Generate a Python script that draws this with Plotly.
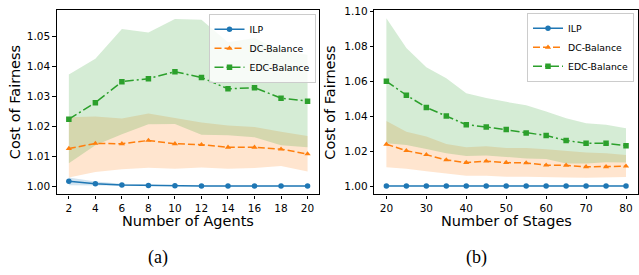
import plotly.graph_objects as go

# ---------------- data: panel (a) ----------------
agents = [2, 4, 6, 8, 10, 12, 14, 16, 18, 20]
ilp_a = [1.0016, 1.0008, 1.0004, 1.0002, 1.0001, 1.0, 1.0, 1.0, 1.0, 1.0]
ilp_a_lo = [1.0003, 1.0002, 1.0001, 1.0, 1.0, 0.9999, 0.9999, 0.9999, 0.9999, 0.9999]
ilp_a_hi = [1.0029, 1.0015, 1.0008, 1.0004, 1.0002, 1.0001, 1.0001, 1.0001, 1.0001, 1.0001]
dc_a = [1.0125, 1.0142, 1.0141, 1.0152, 1.0141, 1.0138, 1.0129, 1.0129, 1.0123, 1.0107]
dc_a_lo = [1.0029, 1.0047, 1.0056, 1.0061, 1.0058, 1.0062, 1.0058, 1.0060, 1.0067, 1.0049]
dc_a_hi = [1.0229, 1.0232, 1.0225, 1.0242, 1.0227, 1.0212, 1.0202, 1.0197, 1.0181, 1.0167]
edc_a = [1.0223, 1.0278, 1.0348, 1.0358, 1.0381, 1.0362, 1.0324, 1.0328, 1.0293, 1.0283]
edc_a_lo = [1.0076, 1.0136, 1.0173, 1.0206, 1.0207, 1.0171, 1.0169, 1.0163, 1.0136, 1.0129]
edc_a_hi = [1.0372, 1.0424, 1.0523, 1.0512, 1.0557, 1.0554, 1.0479, 1.0493, 1.0450, 1.0438]

# ---------------- data: panel (b) ----------------
stages = [20, 25, 30, 35, 40, 45, 50, 55, 60, 65, 70, 75, 80]
ilp_b = [1.0001] * 13
ilp_b_lo = [1.0] * 13
ilp_b_hi = [1.0002] * 13
dc_b = [1.0240, 1.0203, 1.0180, 1.0150, 1.0135, 1.0143, 1.0135, 1.0133, 1.0120, 1.0119, 1.0111, 1.0111, 1.0114]
dc_b_lo = [1.0108, 1.0100, 1.0085, 1.0072, 1.0059, 1.0059, 1.0053, 1.0053, 1.0049, 1.0049, 1.0048, 1.0049, 1.0052]
dc_b_hi = [1.0373, 1.0312, 1.0284, 1.0242, 1.0223, 1.0229, 1.0219, 1.0218, 1.0212, 1.0203, 1.0193, 1.0189, 1.0178]
edc_b = [1.0601, 1.0521, 1.0451, 1.0402, 1.0352, 1.0339, 1.0324, 1.0305, 1.0290, 1.0262, 1.0245, 1.0245, 1.0232]
edc_b_lo = [1.0245, 1.0235, 1.0213, 1.0188, 1.0173, 1.0176, 1.0167, 1.0158, 1.0155, 1.0130, 1.0129, 1.0137, 1.0135]
edc_b_hi = [1.0962, 1.0791, 1.0682, 1.0619, 1.0533, 1.0505, 1.0483, 1.0464, 1.0427, 1.0389, 1.0361, 1.0352, 1.0332]

x_ticks_a = [2, 4, 6, 8, 10, 12, 14, 16, 18, 20]
y_ticks_a = [1.00, 1.01, 1.02, 1.03, 1.04, 1.05]
x_ticks_b = [20, 30, 40, 50, 60, 70, 80]
y_ticks_b = [1.00, 1.02, 1.04, 1.06, 1.08, 1.10]

series_names = ["ILP", "DC-Balance", "EDC-Balance"]
colors = ["#1f77b4", "#ff7f0e", "#2ca02c"]
fills = ["rgba(31,119,180,0.2)", "rgba(255,127,14,0.2)", "rgba(44,160,44,0.2)"]
symbols = ["circle", "triangle-up", "square"]
dashes = ["solid", "7px,3px", "9px,3px,2px,3px"]

W, H = 639, 275
FONT = "DejaVu Sans"

fig = go.Figure()

panels = [
    ("x", "y", "legend", agents,
     [(ilp_a, ilp_a_lo, ilp_a_hi), (dc_a, dc_a_lo, dc_a_hi), (edc_a, edc_a_lo, edc_a_hi)]),
    ("x2", "y2", "legend2", stages,
     [(ilp_b, ilp_b_lo, ilp_b_hi), (dc_b, dc_b_lo, dc_b_hi), (edc_b, edc_b_lo, edc_b_hi)]),
]

for xa, ya, lg, xs, data in panels:
    # shaded bands first
    for i, (m, lo, hi) in enumerate(data):
        fig.add_trace(go.Scatter(x=xs, y=lo, xaxis=xa, yaxis=ya, mode="lines",
                                 line=dict(width=0), showlegend=False, hoverinfo="skip"))
        fig.add_trace(go.Scatter(x=xs, y=hi, xaxis=xa, yaxis=ya, mode="lines",
                                 line=dict(width=0), fill="tonexty", fillcolor=fills[i],
                                 showlegend=False, hoverinfo="skip"))
    for i, (m, lo, hi) in enumerate(data):
        fig.add_trace(go.Scatter(x=xs, y=m, xaxis=xa, yaxis=ya, mode="lines+markers",
                                 name=series_names[i], legend=lg,
                                 line=dict(color=colors[i], width=1.5, dash=dashes[i]),
                                 marker=dict(symbol=symbols[i], size=5.5, color=colors[i])))

axis_common = dict(showline=True, linecolor="black", linewidth=1.3, mirror=True,
                   ticks="outside", ticklen=3.5, tickwidth=1, tickcolor="black",
                   showgrid=False, zeroline=False,
                   tickfont=dict(family=FONT, size=10.5, color="black"))

y0 = (H - 193) / H
y1 = (H - 5) / H

legend_common = dict(xanchor="right", yanchor="top", traceorder="normal",
                     font=dict(family=FONT, size=9.3, color="black"),
                     bgcolor="rgba(255,255,255,0.8)", bordercolor="#cccccc", borderwidth=1,
                     itemwidth=30, tracegroupgap=0)

fig.update_layout(
    width=W, height=H,
    margin=dict(l=0, r=0, t=0, b=0),
    paper_bgcolor="white", plot_bgcolor="white",
    xaxis=dict(domain=[57 / W, 320 / W], range=[1.1, 20.9], tickvals=x_ticks_a,
               anchor="y", **axis_common),
    yaxis=dict(domain=[y0, y1], range=[0.9972, 1.0587], tickvals=y_ticks_a,
               tickformat=".2f", anchor="x", **axis_common),
    xaxis2=dict(domain=[375 / W, 639 / W], range=[17, 83], tickvals=x_ticks_b,
                anchor="y2", **axis_common),
    yaxis2=dict(domain=[y0, y1], range=[0.9952, 1.1010], tickvals=y_ticks_b,
                tickformat=".2f", anchor="x2", **axis_common),
    legend=dict(x=316 / W, y=(H - 9) / H, **legend_common),
    legend2=dict(x=635 / W, y=(H - 8) / H, **legend_common),
    showlegend=True,
)

title_font = dict(family=FONT, size=14.5, color="black")
ann = [
    dict(text="Cost of Fairness", x=15 / W, y=(H - 99) / H, textangle=-90, font=title_font),
    dict(text="Cost of Fairness", x=331 / W, y=(H - 99) / H, textangle=-90, font=title_font),
    dict(text="Number of Agents", x=188.5 / W, y=(H - 220) / H, font=title_font),
    dict(text="Number of Stages", x=507.5 / W, y=(H - 220) / H, font=title_font),
    dict(text="(a)", x=158 / W, y=(H - 257) / H,
         font=dict(family="Liberation Serif", size=18, color="black")),
    dict(text="(b)", x=477 / W, y=(H - 257) / H,
         font=dict(family="Liberation Serif", size=18, color="black")),
]
for a in ann:
    a.update(xref="paper", yref="paper", showarrow=False, xanchor="center", yanchor="middle")
    fig.add_annotation(**a)

fig.write_html("out.html", config={"displayModeBar": False},
               post_script="document.body.style.margin='0';document.body.style.overflow='hidden';")
